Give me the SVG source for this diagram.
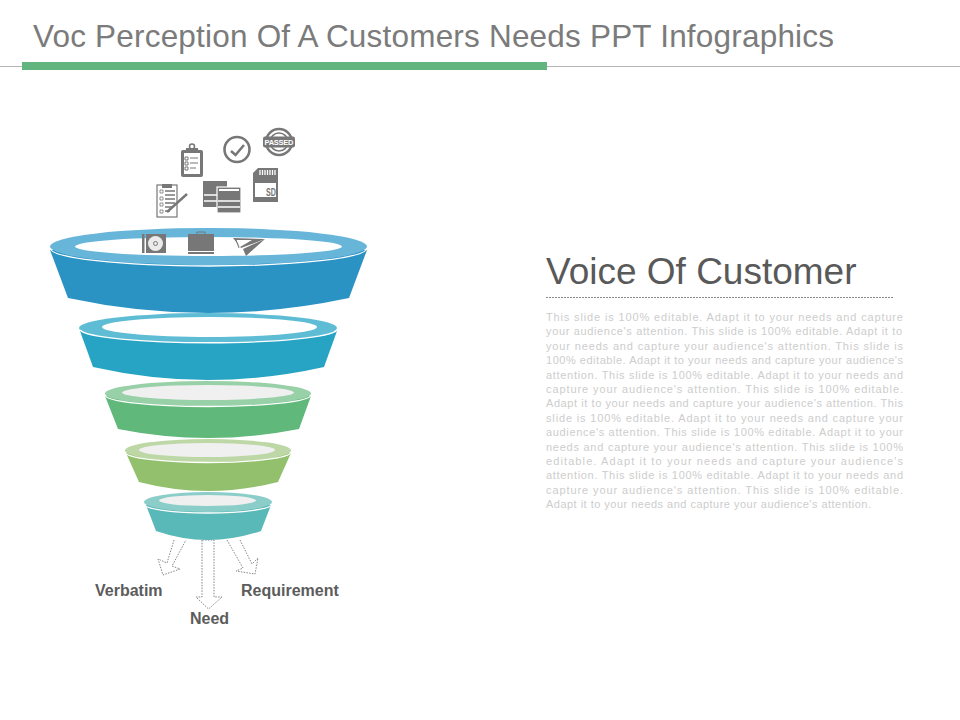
<svg xmlns="http://www.w3.org/2000/svg" width="960" height="720" viewBox="0 0 960 720">
<style>
text{font-family:"Liberation Sans",Arial,sans-serif}
.title{font-size:31.5px;fill:#7b7b7b}
.head{font-size:37px;fill:#595959}
.body{font-size:11px;fill:#cdcdcd}
.label{font-size:16px;font-weight:bold;fill:#5c5c5c}
.edge{fill:none;stroke:#fff;stroke-width:1.3}
.arrow{fill:#fff;stroke:#777;stroke-width:.9;stroke-dasharray:1.5 1.3}
.ic{fill:#777}
.wh{fill:#fff}
.ln{fill:none;stroke:#777}
.ln2{fill:none;stroke:#fff}
</style>
<rect width="960" height="720" fill="#fff"/>
<g id="header">
<line x1="0" y1="66.500" x2="960" y2="66.500" stroke="#b5b5b5" stroke-width="1"/>
<rect x="22" y="62" width="525" height="8" fill="#62b57f"/>
<text class="title" x="33" y="47" textLength="801">Voc Perception Of A Customers Needs PPT Infographics</text>
</g>
<g id="connectors">
<path class="arrow" d="M202 540V597H196L208.500 609L222 597H214V540Z"/>
<path class="arrow" d="M174 540L167 563L158 559L163 575L180 569L172 566L186 540"/>
<path class="arrow" d="M227 540L243 568L236 571L255 574L258 558L252 564L240 540"/>
</g>
<g id="segment-1">
<path d="M50 250L68 298Q208 328 349 298L367 250Z" fill="#2b93c4"/>
<ellipse cx="208.500" cy="246.500" rx="158.500" ry="18.500" fill="#67b5d9"/>
<ellipse cx="208.500" cy="246.500" rx="133.500" ry="9.500" fill="#fff"/>
<path class="edge" d="M50 248A158.500 18 0 0 0 367 248"/>
</g>
<g id="segment-2">
<path d="M80 331L93 367Q208 393 324 367L337 331Z" fill="#27a4c3"/>
<ellipse cx="208" cy="328" rx="129" ry="15" fill="#5fbcd5"/>
<ellipse cx="209.500" cy="327" rx="107.500" ry="10" fill="#fff"/>
<path class="edge" d="M80 330A129 14 0 0 0 337 330"/>
</g>
<g id="segment-3">
<path d="M105 396L118 429Q208 447 299 429L311 396Z" fill="#60b87b"/>
<ellipse cx="208" cy="393.500" rx="103" ry="12.500" fill="#98d0a8"/>
<ellipse cx="208" cy="392.500" rx="86" ry="7.500" fill="#f0f0f0"/>
<path class="edge" d="M105 395A103 11.500 0 0 0 311 395"/>
</g>
<g id="segment-4">
<path d="M126 453L139 482Q208 500 278 482L291 453Z" fill="#93c06d"/>
<ellipse cx="208" cy="450.500" rx="83" ry="11.500" fill="#bdd8a6"/>
<ellipse cx="207" cy="450" rx="68" ry="7" fill="#f0f0f0"/>
<path class="edge" d="M125 452A83 10.500 0 0 0 291 452"/>
</g>
<g id="segment-5">
<path d="M146 505L156 531Q208 549 261 531L271 505Z" fill="#59b8b8"/>
<ellipse cx="208" cy="502" rx="64" ry="10" fill="#8bcdc9"/>
<ellipse cx="207.500" cy="500.500" rx="48.500" ry="5.500" fill="#f0f0f0"/>
<path class="edge" d="M144 504A64 9 0 0 0 272 504"/>
</g>
<g id="icon-clipboard">
<circle cx="192" cy="146.500" r="2.500" fill="none" stroke="#777" stroke-width="1.500"/>
<rect class="ic" x="186" y="148" width="12" height="4"/>
<rect class="ic" x="181" y="150" width="22" height="27" rx="2"/>
<rect class="wh" x="184" y="153" width="16" height="21"/>
<path class="ln" d="M185 157h3v3h-3zM185 162h3v3h-3zM185 167h3v3h-3zM190 158h8M190 163h8M190 168h6" stroke-width="1"/>
</g>
<g id="icon-check">
<circle cx="237" cy="149.500" r="12.500" fill="none" stroke="#777" stroke-width="2.600"/>
<path class="ln" d="M231 151L235.500 155L244 145" stroke-width="2.600"/>
</g>
<g id="icon-passed">
<circle cx="279" cy="142" r="13" fill="none" stroke="#777" stroke-width="2.500"/>
<circle cx="279" cy="142" r="9" fill="none" stroke="#777" stroke-width="1.500"/>
<rect class="ic" x="263" y="136.500" width="32" height="11" rx="2"/>
<text x="279" y="145" text-anchor="middle" font-size="7.500" font-weight="bold" fill="#fff" textLength="29">PASSED</text>
</g>
<g id="icon-sd">
<path class="ic" d="M258 168H278V202H253V173Z"/>
<path class="ln2" d="M260 170v5M262.500 170v5M265 170v5M267.500 170v5M270 170v5M272.500 170v5M275 170v5" stroke-width="1.300"/>
<rect class="wh" x="255" y="183" width="21" height="14"/>
<text transform="translate(271 195.500) scale(.65 1)" text-anchor="middle" font-size="11" font-weight="bold" fill="#777">SD</text>
</g>
<g id="icon-docs">
<rect class="ic" x="203" y="181" width="24" height="26"/>
<path class="ln2" d="M204 195H227M204 201H227" stroke-width="1.500"/>
<rect class="ic" x="217" y="187" width="24" height="26" stroke="#fff" stroke-width="1.200"/>
<rect class="wh" x="219" y="189" width="20" height="2"/>
<path class="ln2" d="M218 201H240M218 207H240" stroke-width="1.500"/>
</g>
<g id="icon-checklist">
<rect class="wh" x="157" y="185" width="20" height="32" stroke="#777" stroke-width="1.200"/>
<rect class="ic" x="162" y="184" width="10" height="4"/>
<path class="ln" d="M160 190h3v3h-3zM160 197h3v3h-3zM160 203h3v3h-3zM160 210h3v3h-3z" stroke-width=".8"/>
<path class="ln" d="M165 191h10M165 195h10M165 199h10M165 203h10M165 207h8M165 211h5" stroke-width="1.500" stroke="#666"/>
<path class="ln" d="M167 212L187 194" stroke-width="2.400"/>
</g>
<g id="icon-cd">
<rect class="ic" x="142" y="234" width="2.500" height="19"/>
<rect class="ic" x="146" y="234" width="20" height="19"/>
<circle class="wh" cx="155.500" cy="243.500" r="7.500" fill-opacity=".85"/>
<circle cx="155.500" cy="243.500" r="2" fill="none" stroke="#777"/>
</g>
<g id="icon-briefcase">
<path class="ln" d="M197 234V232H205V234" stroke-width="1"/>
<rect class="ic" x="188" y="234" width="26" height="17"/>
<rect class="ic" x="188" y="252" width="26" height="2"/>
</g>
<g id="icon-plane">
<path class="ic" d="M233 238L265 239L241 248Z"/>
<path class="wh" d="M236 240L252 240L240 247Z"/>
<path class="ic" d="M265 239L243 249L246 256Z"/>
<path class="ln" d="M236 240L239 248" stroke-width="1"/>
</g>
<g id="labels">
<text class="label" x="95" y="596">Verbatim</text>
<text class="label" x="241" y="596">Requirement</text>
<text class="label" x="190" y="624">Need</text>
</g>
<g id="description">
<text class="head" x="546" y="284">Voice Of Customer</text>
<line x1="546" y1="297.500" x2="894" y2="297.500" stroke="#888" stroke-width="1" stroke-dasharray="2 1"/>
<text class="body" x="546" y="321" textLength="357">This slide is 100% editable. Adapt it to your needs and capture</text>
<text class="body" x="546" y="335.400" textLength="356">your audience's attention. This slide is 100% editable. Adapt it to</text>
<text class="body" x="546" y="349.800" textLength="357">your needs and capture your audience's attention. This slide is</text>
<text class="body" x="546" y="364.200" textLength="357">100% editable. Adapt it to your needs and capture your audience's</text>
<text class="body" x="546" y="378.600" textLength="357">attention. This slide is 100% editable. Adapt it to your needs and</text>
<text class="body" x="546" y="393" textLength="357">capture your audience's attention. This slide is 100% editable.</text>
<text class="body" x="546" y="407.400" textLength="357">Adapt it to your needs and capture your audience's attention. This</text>
<text class="body" x="546" y="421.800" textLength="357">slide is 100% editable. Adapt it to your needs and capture your</text>
<text class="body" x="546" y="436.200" textLength="357">audience's attention. This slide is 100% editable. Adapt it to your</text>
<text class="body" x="546" y="450.600" textLength="357">needs and capture your audience's attention. This slide is 100%</text>
<text class="body" x="546" y="465" textLength="357">editable. Adapt it to your needs and capture your audience's</text>
<text class="body" x="546" y="479.400" textLength="357">attention. This slide is 100% editable. Adapt it to your needs and</text>
<text class="body" x="546" y="493.800" textLength="357">capture your audience's attention. This slide is 100% editable.</text>
<text class="body" x="546" y="508.200" textLength="325">Adapt it to your needs and capture your audience's attention.</text>
</g>
</svg>
